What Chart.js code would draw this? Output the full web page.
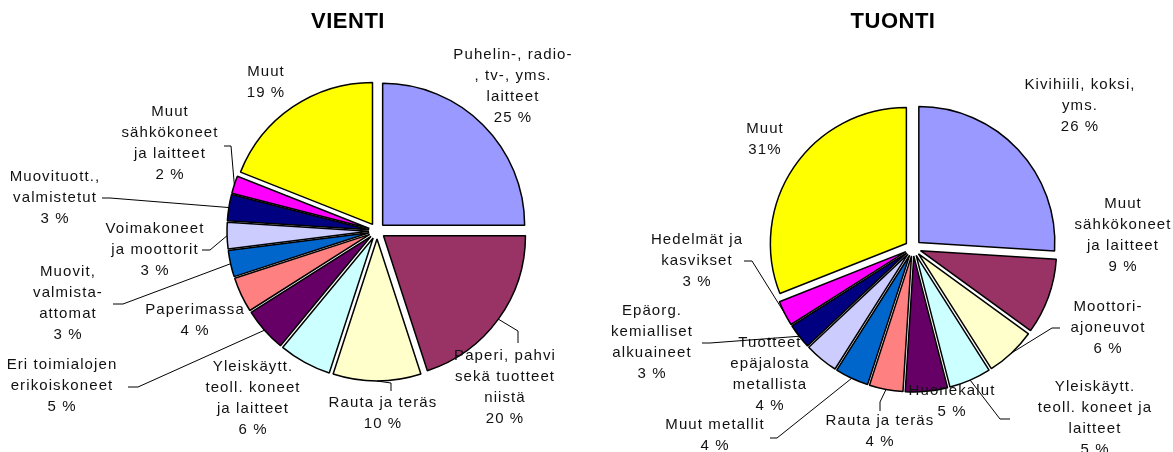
<!DOCTYPE html>
<html>
<head>
<meta charset="utf-8">
<script src="https://cdn.jsdelivr.net/npm/chart.js@4"></script>
<style>
  body { margin: 0; background: #fff; }
  #wrap { position: relative; width: 1173px; height: 452px; }
  #wrap canvas { position: absolute; top: 0; }
</style>
</head>
<body>
<div id="wrap">
  <canvas id="chartVienti" width="586" height="452" style="left:0"></canvas>
  <canvas id="chartTuonti" width="587" height="452" style="left:586px"></canvas>
</div>
<script>
// VIENTI (export), slices clockwise from 12 o'clock
const vientiLabels = [
  ['Puhelin-, radio-', ', tv-, yms.', 'laitteet'],
  ['Paperi, pahvi', 'sekä tuotteet', 'niistä'],
  ['Rauta ja teräs'],
  ['Yleiskäytt.', 'teoll. koneet', 'ja laitteet'],
  ['Eri toimialojen', 'erikoiskoneet'],
  ['Paperimassa'],
  ['Muovit,', 'valmista-', 'attomat'],
  ['Voimakoneet', 'ja moottorit'],
  ['Muovituott.,', 'valmistetut'],
  ['Muut', 'sähkökoneet', 'ja laitteet'],
  ['Muut']
];
const vientiValues = [25, 20, 10, 6, 5, 4, 3, 3, 3, 2, 19];

// TUONTI (import)
const tuontiLabels = [
  ['Kivihiili, koksi,', 'yms.'],
  ['Muut', 'sähkökoneet', 'ja laitteet'],
  ['Moottori-', 'ajoneuvot'],
  ['Yleiskäytt.', 'teoll. koneet ja', 'laitteet'],
  ['Huonekalut'],
  ['Rauta ja teräs'],
  ['Muut metallit'],
  ['Tuotteet', 'epäjalosta', 'metallista'],
  ['Epäorg.', 'kemialliset', 'alkuaineet'],
  ['Hedelmät ja', 'kasvikset'],
  ['Muut']
];
const tuontiValues = [26, 9, 6, 5, 5, 4, 4, 4, 3, 3, 31];

const sliceColors = ['#9999FF', '#993366', '#FFFFCC', '#CCFFFF', '#660066', '#FF8080',
                     '#0066CC', '#CCCCFF', '#000080', '#FF00FF', '#FFFF00'];

// label placement relative to the pie centre: text x/y, optional leader [ax, ay, bx, by]
const vientiLayout = [
  { x: 136, y: -176 },
  { x: 128, y: 125, leader: [141, 112, 141, 100] },
  { x: 6, y: 172, leader: [14, 160, 14, 152] },
  { x: -124, y: 136 },
  { x: -315, y: 134, leader: [-249, 156, -239, 156] },
  { x: -182, y: 79 },
  { x: -309, y: 41, leader: [-264, 73, -254, 73] },
  { x: -222, y: -2, leader: [-175, 19, -167, 19] },
  { x: -322, y: -54, leader: [-275, -33, -267, -33] },
  { x: -207, y: -119, leader: [-153, -85, -146, -85] },
  { x: -111, y: -159 }
];
const tuontiLayout = [
  { x: 167, y: -163 },
  { x: 210, y: -44 },
  { x: 195, y: 59, leader: [147, 80, 139, 80] },
  { x: 182, y: 139, leader: [97, 171, 87, 171] },
  { x: 39, y: 143 },
  { x: -33, y: 173, leader: [-33, 163, -33, 154] },
  { x: -198, y: 177, leader: [-143, 190, -136, 190] },
  { x: -143, y: 95 },
  { x: -261, y: 63, leader: [-211, 95, -203, 95] },
  { x: -216, y: -8, leader: [-169, 13, -161, 13] },
  { x: -148, y: -119, tight: true }
];

const FONT = '"Liberation Sans", Arial, sans-serif';

// draw each slice pushed out along its bisector (Excel style explosion)
const explodePlugin = {
  id: 'explode',
  beforeDatasetDraw(chart, args, opts) {
    const ctx = chart.ctx;
    const d = opts.distance || 0;
    args.meta.data.forEach(arc => {
      const mid = (arc.startAngle + arc.endAngle) / 2;
      ctx.save();
      ctx.translate(Math.cos(mid) * d, Math.sin(mid) * d);
      arc.draw(ctx);
      ctx.restore();
    });
    return false;
  }
};

const labelPlugin = {
  id: 'sliceLabels',
  afterDatasetsDraw(chart, args, opts) {
    const ctx = chart.ctx;
    const arcs = chart.getDatasetMeta(0).data;
    const values = chart.data.datasets[0].data;
    const d = chart.options.plugins.explode.distance;
    ctx.save();
    // title
    ctx.font = 'bold 22px ' + FONT;
    ctx.letterSpacing = '0.5px';
    ctx.fillStyle = '#000';
    ctx.textAlign = 'center';
    ctx.textBaseline = 'middle';
    ctx.fillText(opts.title, opts.titleX, 22);

    ctx.font = '15px ' + FONT;
    ctx.letterSpacing = '1.1px';
    ctx.fillStyle = '#111';
    ctx.strokeStyle = '#000';
    ctx.lineWidth = 1;
    arcs.forEach((arc, i) => {
      const p = opts.layout[i];
      const lines = chart.data.labels[i].concat(values[i] + (p.tight ? '%' : ' %'));
      lines.forEach((t, k) => ctx.fillText(t, arc.x + p.x, arc.y + p.y + k * 21));
      if (p.leader) {
        const mid = (arc.startAngle + arc.endAngle) / 2;
        const r = arc.outerRadius + d;
        const [ax, ay, bx, by] = p.leader;
        ctx.beginPath();
        ctx.moveTo(arc.x + ax, arc.y + ay);
        ctx.lineTo(arc.x + bx, arc.y + by);
        ctx.lineTo(arc.x + Math.cos(mid) * r, arc.y + Math.sin(mid) * r);
        ctx.stroke();
      }
    });
    ctx.restore();
  }
};

function makePie(id, labels, values, layout, title, titleX, radius, padding) {
  return new Chart(document.getElementById(id).getContext('2d'), {
    type: 'pie',
    data: {
      labels: labels,
      datasets: [{
        data: values,
        backgroundColor: sliceColors,
        borderColor: '#000',
        borderWidth: 1.5
      }]
    },
    options: {
      responsive: false,
      animation: false,
      radius: radius,
      layout: { padding: padding },
      plugins: {
        legend: { display: false },
        tooltip: { enabled: false },
        explode: { distance: 8 },
        sliceLabels: { layout: layout, title: title, titleX: titleX }
      }
    },
    plugins: [explodePlugin, labelPlugin]
  });
}

makePie('chartVienti', vientiLabels, vientiValues, vientiLayout, 'VIENTI', 348, 142,
        { left: 168, top: 10, right: 0, bottom: 0 });
makePie('chartTuonti', tuontiLabels, tuontiValues, tuontiLayout, 'TUONTI', 307, 136,
        { left: 67, top: 44, right: 0, bottom: 0 });
</script>
</body>
</html>
